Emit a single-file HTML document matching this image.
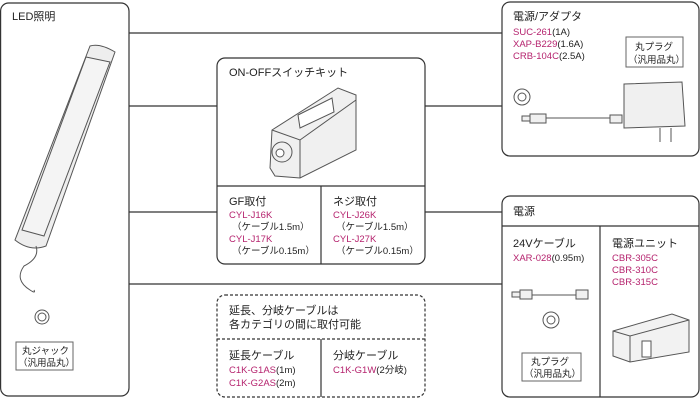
<!DOCTYPE html>
<html><head><meta charset="utf-8"><style>
body{margin:0;background:#fff}
svg{display:block}
text{font-family:"Liberation Sans","Noto Sans CJK JP",sans-serif;fill:#222}
.p{fill:#b5236e;font-size:9.5px}
.s{font-size:9.5px}
.h{font-size:11px}
</style></head><body>
<svg width="700" height="400" viewBox="0 0 700 400">
<g fill="none" stroke="#333" stroke-width="1.2">
<line x1="129" y1="33" x2="502" y2="33"/>
<line x1="129" y1="106" x2="217" y2="106"/>
<line x1="425" y1="106" x2="502" y2="106"/>
<line x1="129" y1="212" x2="217" y2="212"/>
<line x1="425" y1="212" x2="502" y2="212"/>
<line x1="129" y1="284" x2="502" y2="284"/>
<rect x="0.6" y="3" width="128.4" height="393" rx="8"/>
<rect x="217" y="58" width="208" height="206" rx="8"/>
<line x1="217" y1="186" x2="425" y2="186"/>
<line x1="321" y1="186" x2="321" y2="264"/>
<rect x="502" y="2" width="197" height="154" rx="8"/>
<rect x="502" y="196" width="197" height="201" rx="8"/>
<line x1="502" y1="226" x2="699" y2="226"/>
<line x1="600" y1="226" x2="600" y2="397"/>
<rect x="217" y="295" width="208" height="102" rx="8" stroke-dasharray="3,2"/>
<line x1="217" y1="339" x2="425" y2="339" stroke-dasharray="3,2"/>
<line x1="321" y1="339" x2="321" y2="397"/>
</g>
<g fill="none" stroke="#666" stroke-width="1">
<rect x="626" y="37" width="57" height="30"/>
<rect x="16" y="342" width="57" height="28"/>
<rect x="522" y="353" width="59" height="28"/>
</g>
<!-- LED bar -->
<g stroke="#555" stroke-width="1" fill="#eee">
<path d="M90 46 Q100 43 115 52 L46 246 Q30 252 15 240 Z"/>
<path d="M86 57 L110 62 L44 236 L22 230 Z" fill="#f4f4f4"/>
<path d="M36 246 Q40 258 24 266 Q14 280 30 290 Q36 294 34 290" fill="none"/>
<circle cx="42" cy="317" r="7" fill="none"/><circle cx="42" cy="317" r="4" fill="none"/>
</g>
<!-- switch -->
<g stroke="#555" stroke-width="1" fill="#f0f0f0">
<path d="M272 130 L338 88 L356 95 L356 150 L300 178 L275 176 L270 168 Z"/>
<path d="M272 130 L300 140 L356 100" fill="none"/>
<line x1="300" y1="140" x2="300" y2="178"/>
<path d="M298 115 L332 98 L334 112 L300 128 Z" fill="#fff"/>
<circle cx="282" cy="152" r="10"/><circle cx="280" cy="153" r="4" fill="#fff"/>
</g>
<!-- adapter -->
<g stroke="#555" stroke-width="1" fill="#f0f0f0">
<circle cx="522" cy="97" r="8" fill="none"/><circle cx="522" cy="97" r="4" fill="none"/>
<rect x="522" y="116" width="8" height="5"/>
<rect x="530" y="114" width="16" height="9"/>
<line x1="546" y1="118" x2="610" y2="118"/>
<rect x="610" y="115" width="12" height="8"/>
<path d="M624 84 L682 82 L685 126 L624 128 Z"/>
<line x1="660" y1="128" x2="660" y2="142"/><line x1="671" y1="128" x2="671" y2="142"/>
</g>
<!-- 24V cable -->
<g stroke="#555" stroke-width="1" fill="#f0f0f0">
<rect x="512" y="292" width="8" height="5"/><rect x="520" y="290" width="12" height="9"/>
<line x1="532" y1="295" x2="576" y2="295"/>
<rect x="576" y="290" width="12" height="9"/>
<circle cx="551" cy="320" r="8" fill="none"/><circle cx="551" cy="320" r="4" fill="none"/>
</g>
<!-- power unit -->
<g stroke="#555" stroke-width="1" fill="#f2f2f2">
<path d="M613 331 L672 314 L689 320 L689 352 L630 362 L613 356 Z"/>
<path d="M613 331 L630 336 L689 320" fill="none"/>
<line x1="630" y1="336" x2="630" y2="362"/>
<rect x="642" y="341" width="9" height="16" fill="#fff"/>
</g>
<text x="12" y="20" class="h">LED照明</text>
<text x="22" y="354" class="s">丸ジャック</text>
<text x="18" y="366" class="s">（汎用品丸）</text>
<text x="229" y="76" class="h">ON-OFFスイッチキット</text>
<text x="229" y="205" class="h">GF取付</text>
<text x="229" y="218" class="p">CYL-J16K</text>
<text x="232" y="230" class="s">（ケーブル1.5m）</text>
<text x="229" y="242" class="p">CYL-J17K</text>
<text x="232" y="254" class="s">（ケーブル0.15m）</text>
<text x="333" y="205" class="h">ネジ取付</text>
<text x="333" y="218" class="p">CYL-J26K</text>
<text x="336" y="230" class="s">（ケーブル1.5m）</text>
<text x="333" y="242" class="p">CYL-J27K</text>
<text x="336" y="254" class="s">（ケーブル0.15m）</text>
<text x="229" y="314" class="h">延長、分岐ケーブルは</text>
<text x="229" y="328" class="h">各カテゴリの間に取付可能</text>
<text x="229" y="359" class="h">延長ケーブル</text>
<text x="229" y="373" class="p">C1K-G1AS<tspan class="s" style="fill:#222">(1m)</tspan></text>
<text x="229" y="386" class="p">C1K-G2AS<tspan class="s" style="fill:#222">(2m)</tspan></text>
<text x="333" y="359" class="h">分岐ケーブル</text>
<text x="333" y="373" class="p">C1K-G1W<tspan class="s" style="fill:#222">(2分岐)</tspan></text>
<text x="513" y="20" class="h">電源/アダプタ</text>
<text x="513" y="35" class="p">SUC-261<tspan class="s" style="fill:#222">(1A)</tspan></text>
<text x="513" y="47" class="p">XAP-B229<tspan class="s" style="fill:#222">(1.6A)</tspan></text>
<text x="513" y="59" class="p">CRB-104C<tspan class="s" style="fill:#222">(2.5A)</tspan></text>
<text x="635" y="50" class="s">丸プラグ</text>
<text x="628" y="63" class="s">（汎用品丸）</text>
<text x="513" y="215" class="h">電源</text>
<text x="513" y="247" class="h">24Vケーブル</text>
<text x="513" y="261" class="p">XAR-028<tspan class="s" style="fill:#222">(0.95m)</tspan></text>
<text x="612" y="247" class="h">電源ユニット</text>
<text x="612" y="261" class="p">CBR-305C</text>
<text x="612" y="273" class="p">CBR-310C</text>
<text x="612" y="285" class="p">CBR-315C</text>
<text x="531" y="365" class="s">丸プラグ</text>
<text x="524" y="377" class="s">（汎用品丸）</text>
</svg>
</body></html>
